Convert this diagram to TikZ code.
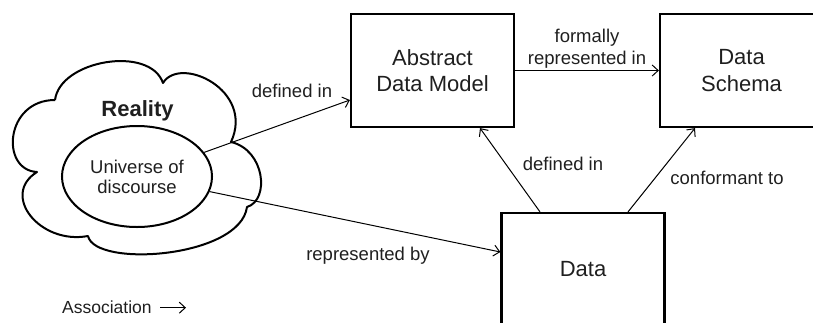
\documentclass[tikz,border=0pt]{standalone}
\usepackage{fontspec}
\setmainfont{Liberation Sans}
\usetikzlibrary{arrows.meta,shapes.geometric}
\begin{document}
\begin{tikzpicture}[x=1pt,y=-1pt,
  every node/.style={text=black!88},
  box/.style={draw, line width=2.2pt, minimum width=163pt, minimum height=113pt, align=center, inner sep=0pt, font=\fontsize{22}{26.5}\selectfont},
  lbl/.style={font=\fontsize{18.5}{22}\selectfont, anchor=base, inner sep=0pt},
  arr/.style={line width=1pt, -{Straight Barb[length=6pt,width=11pt]}},
  cloudline/.style={line width=2pt, line join=round},
]
\useasboundingbox (0,0) rectangle (813,322);
\clip (0,0) rectangle (813,322);

% boxes
\node[box] (adm) at (432.5,70.5) {Abstract\\Data Model};
\node[box] (ds) at (741.5,70.5) {Data\\Schema};
\node[box] (data) at (583,269.5) {Data};

% cloud
\draw[cloudline] (55,100) .. controls (60,60) and (150,45) .. (163,83)
  .. controls (180,55) and (255,90) .. (231,142)
  .. controls (265,150) and (270,200) .. (247,207)
  .. controls (240,258) and (95,268) .. (88,236)
  .. controls (40,245) and (0,195) .. (37,172)
  .. controls (0,170) and (5,100) .. (55,100);
\node[font=\bfseries\fontsize{22}{26}\selectfont, anchor=base, inner sep=0pt] (reality) at (137.5,116.7) {Reality};
\node[draw, ellipse, fill=white, line width=2pt, minimum width=150pt, minimum height=101pt, inner sep=0pt, align=center, font=\fontsize{18.5}{20}\selectfont] (uod) at (137,176.5) {Universe of\\discourse};

% connectors
\draw[arr] (uod) -- ([yshift=-29.5pt]adm.west);
\draw[arr] (uod) -- ([yshift=17.5pt]data.west);
\draw[arr] (adm.east) -- (ds.west);
\draw[arr] ([xshift=-43pt]data.north) -- ([xshift=47.5pt]adm.south);
\draw[arr] ([xshift=45pt]data.north) -- ([xshift=-46.5pt]ds.south);

% labels
\node[lbl] (l1) at (292,97) {defined in};
\node[lbl] (l2) at (368,260) {represented by};
\node[lbl, anchor=center, align=center] (l3) at (587,49.2) {formally\\represented in};
\node[lbl] (l4) at (563,170.7) {defined in};
\node[lbl] (l5) at (727,184) {conformant to};

% legend
\node[lbl, font=\fontsize{17.5}{20}\selectfont, anchor=base west] (assoc) at (62,313) {Association};
\coordinate (legA) at (160,307.7);
\coordinate (legB) at (186,307.7);
\draw[arr] (legA) -- (legB);
\end{tikzpicture}
\end{document}
